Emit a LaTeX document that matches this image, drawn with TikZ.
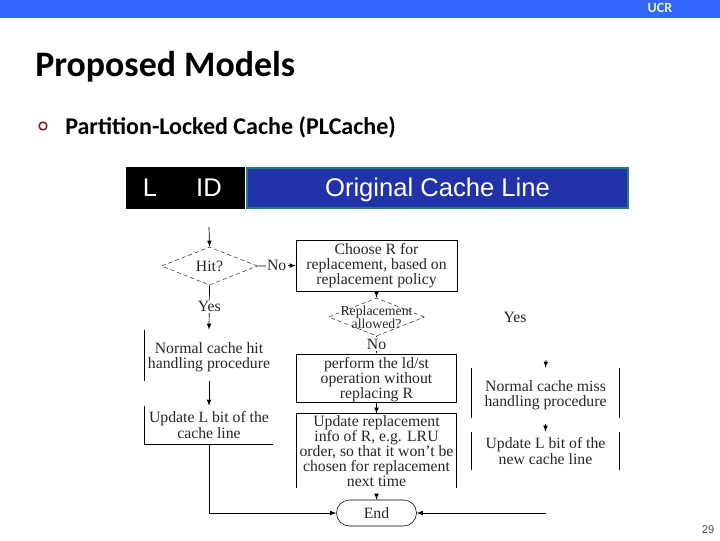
\documentclass[tikz,border=0pt]{standalone}
\usepackage{fontspec}
\setmainfont{Liberation Serif}
\newfontfamily\slidefont{Carlito}
\newfontfamily\boxfont{Liberation Sans}
\usetikzlibrary{shapes.geometric, shapes.misc}
\definecolor{barblue}{HTML}{3366FF}
\definecolor{lineblue}{HTML}{2233AA}
\definecolor{lineteal}{HTML}{1F7F78}
\definecolor{ringred}{HTML}{7A1F2B}
\definecolor{ucrgreen}{HTML}{E4F5A0}
\newcommand{\toppad}[1]{\rule{0pt}{#1}}
\begin{document}
\begin{tikzpicture}[x=0.025cm, y=-0.025cm]
    \tikzset{
      flowfont/.style={text=black!85, font=\fontsize{11.2}{10.7}\selectfont},
      flowbox/.style={flowfont, align=center, inner sep=0},
      framed/.style={flowbox, draw=black, line width=0.5pt},
      decision/.style={diamond, draw=black!85, densely dashed, line width=0.35pt, inner sep=0, minimum width=2.4cm, minimum height=0.95cm, shape aspect=2.5},
      network/.style={->, > = latex, draw=black, line width=0.5pt},
      stub/.style={network, shorten <=4pt},
      edgetext/.style={flowfont, fill=white, inner sep=1pt},
      side/.style={draw=black, line width=0.5pt},
      cell/.style={text=white, inner sep=0, text height=13pt, text depth=1.6pt, font=\boxfont\fontsize{18.2}{20}\selectfont}
    }
    \useasboundingbox (0,0) rectangle (720,540);

    % slide frame
    \fill[barblue] (0,0) rectangle (720,18);
    \draw (660,7.5) node (ucr) [inner sep=0, text=ucrgreen, font=\slidefont\bfseries\fontsize{10}{11}\selectfont] {UCR};
    \draw (35,67) node (title) [anchor=west, inner sep=0, font=\slidefont\bfseries\fontsize{25.5}{27}\selectfont] {Proposed Models};
    \draw (43,126) node (ring) [circle, draw=ringred, line width=1.1pt, minimum size=5.5pt, inner sep=0] {};
    \draw (65,127.5) node (bullet) [anchor=west, inner sep=0, font=\slidefont\bfseries\fontsize{17.1}{18}\selectfont] {Partition-Locked Cache (PLCache)};
    \draw (708,530) node (page) [inner sep=0, text=black!70, font=\boxfont\fontsize{8}{9}\selectfont] {29};

    % cache line
    \draw (185.5,188) node (tag) [fill=black, minimum width=2.975cm, minimum height=1.05cm, inner sep=0] {};
    \draw (150,188) node (lbit) [cell] {L};
    \draw (209,188) node (idbit) [cell] {ID};
    \draw (437.5,188) node (orig) [cell, fill=lineblue, draw=lineteal, line width=1.4pt, minimum width=9.5cm, minimum height=0.98cm] {Original Cache Line};

    % left branch
    \coordinate (start) at (209,227);
    \draw (209.5,266) node (hit) [decision, label={[flowfont]center:Hit?}] {};
    \draw (209,355.5) node (hitproc) [flowbox, minimum width=3.2cm, minimum height=1.275cm] {\toppad{9.6pt}Normal cache hit\\handling procedure};
    \draw (209,425) node (hitupd) [flowbox, minimum width=3.2cm, minimum height=0.95cm] {Update L bit of the\\cache line};

    % middle branch
    \draw (376.5,265.5) node (choose) [framed, minimum width=4.02cm, minimum height=1.28cm] {Choose R for\\replacement, based on\\replacement policy};
    \draw (376.5,317) node (rep) [decision, label={[align=center, text=black!85, font=\fontsize{9.8}{9.5}\selectfont]center:Replacement\\allowed?}] {};
    \draw (376.5,378) node (perform) [framed, minimum width=4cm, minimum height=1.15cm] {\toppad{10.5pt}perform the ld/st\\operation without\\replacing R};
    \draw (376.5,451) node (update) [flowbox, minimum width=4cm, minimum height=1.85cm] {Update replacement\\info of R, e.g. LRU\\order, so that it won't be\\chosen for replacement\\next time};
    \draw (376.5,513) node (finish) [rounded rectangle, draw=black, line width=0.4pt, minimum width=2cm, minimum height=0.65cm, inner sep=0, flowfont] {End};

    % right branch
    \draw (515,317) node (yes) [edgetext] {Yes};
    \coordinate (missin) at (546,360);
    \draw (545.5,393) node (missproc) [flowbox, minimum width=3.675cm, minimum height=1.25cm] {\toppad{10.5pt}Normal cache miss\\handling procedure};
    \draw (545.5,451) node (missupd) [flowbox, minimum width=3.675cm, minimum height=0.95cm] {Update L bit of the\\new cache line};
    \coordinate (missout) at (546,513);

    % open box sides
    \draw[side] (hitproc.north west) -- (hitproc.south west);
    \draw[side] (hitupd.north west) -- (hitupd.south west) -- (hitupd.south east);
    \draw[side] (update.south west) -- (update.north west) -- (update.north east) -- (update.south east);
    \foreach \part in {missproc, missupd} {
      \draw[side] (\part.north west) -- (\part.south west);
      \draw[side] (\part.north east) -- (\part.south east);
    }

    % connectors
    \draw[network] (start) -- (hit.north);
    \draw[network] (hit.east) -- node [edgetext] {No} (choose.west);
    \draw[network] (hit.south) -- node [edgetext, pos=0.47] {Yes} (hitproc.north);
    \draw[network] (hitproc.south) -- (hitupd.north);
    \draw[network] (hitupd.south) |- (finish.west);
    \draw[network] (choose.south) -- (rep.north);
    \draw[network] (rep.south) -- node [edgetext, pos=0.45] {No} (perform.north);
    \draw[network] (perform.south) -- (update.north);
    \draw[stub] (update.south) -- (finish.north);
    \draw[network] (missin) -- (missproc.north);
    \draw[stub] (missproc.south) -- (missupd.north);
    \draw[network] (missout) -- (finish.east);
\end{tikzpicture}
\end{document}
